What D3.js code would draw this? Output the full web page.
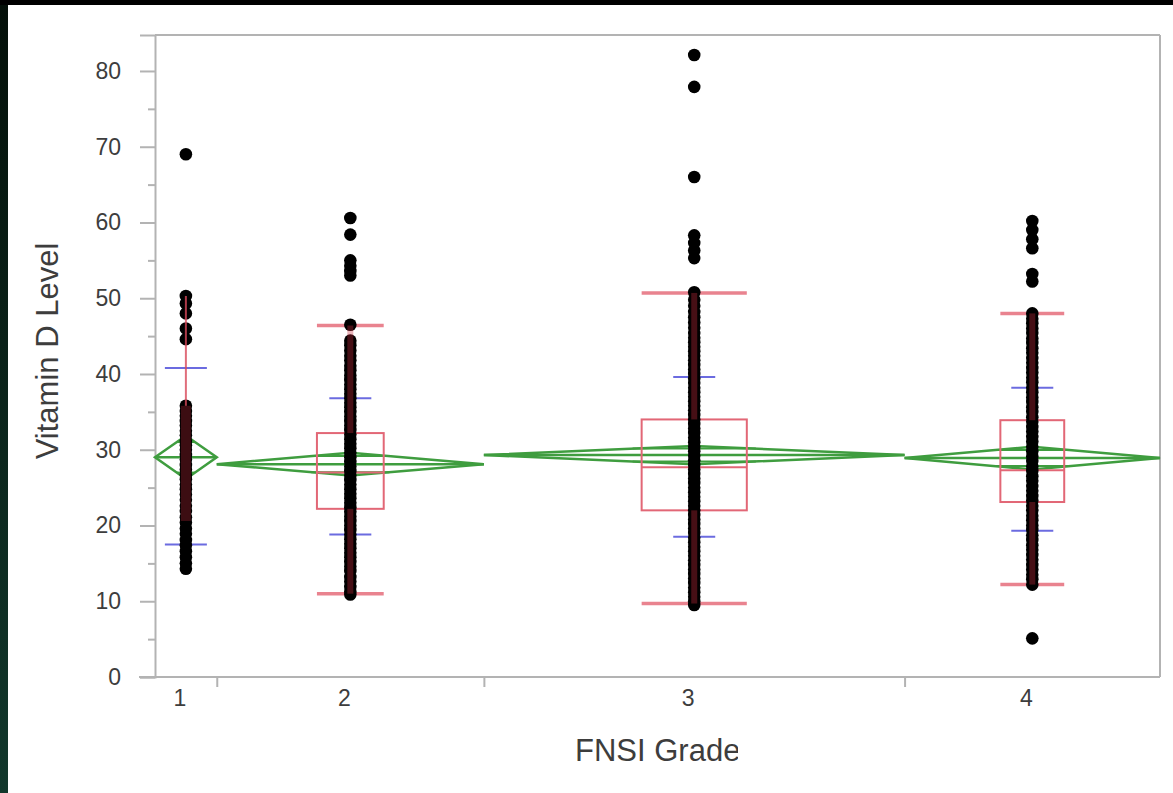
<!DOCTYPE html>
<html>
<head>
<meta charset="utf-8">
<script src="https://cdn.jsdelivr.net/npm/d3@7"></script>
<style>
    body { margin: 0; background: #000; }
    svg { display: block; }
</style>
</head>
<body>
<svg id="chart" width="1173" height="793"></svg>
<script>
'use strict';

// Groups and sample sizes (x widths are proportional to n)
const grades = ['1', '2', '3', '4'];
const groupCounts = [37, 160, 252, 153];

// Individual Vitamin D levels
const grade1 = [69.0, 50.3, 49.3, 48.0, 46.0, 44.6, 35.8, 35.1, 34.5, 33.8, 33.2, 32.5, 31.9,
    31.2, 30.6, 30.0, 29.3, 28.7, 28.0, 27.4, 26.7, 26.1, 25.4, 24.8, 24.1, 23.4, 22.6,
    21.9, 21.1, 20.4, 19.6, 18.9, 18.1, 17.4, 16.6, 15.8, 15.0, 14.3];
const grade2 = [60.6, 58.4, 55.0, 54.3, 53.6, 53.0, 46.5, 44.4, 43.8, 43.1, 42.4, 41.8, 41.1,
    40.5, 39.8, 39.2, 38.6, 38.0, 37.4, 36.8, 36.2, 35.6, 35.0, 34.4, 33.8, 33.2, 32.6,
    32.0, 31.4, 30.8, 30.2, 29.6, 29.0, 28.4, 27.8, 27.2, 26.6, 26.0, 25.4, 24.8, 24.2,
    23.6, 23.0, 22.4, 21.8, 21.2, 20.6, 20.0, 19.4, 18.8, 18.2, 17.6, 17.0, 16.4, 15.8,
    15.2, 14.6, 14.0, 13.2, 12.6, 11.9, 11.3, 10.9];
const grade3 = [82.1, 77.9, 66.0, 58.3, 57.3, 56.3, 55.3, 50.8, 49.8, 49.0, 48.2, 47.5, 46.8,
    46.1, 45.4, 44.8, 44.2, 43.6, 43.0, 42.4, 41.8, 41.2, 40.6, 40.0, 39.4, 38.8, 38.2,
    37.6, 37.0, 36.4, 35.8, 35.2, 34.6, 34.0, 33.4, 32.8, 32.2, 31.6, 31.0, 30.4, 29.8,
    29.2, 28.6, 28.0, 27.4, 26.8, 26.2, 25.6, 25.0, 24.4, 23.8, 23.2, 22.6, 22.0, 21.4,
    20.8, 20.2, 19.6, 19.0, 18.4, 17.8, 17.2, 16.6, 16.0, 15.4, 14.8, 14.2, 13.6, 13.0,
    12.4, 11.8, 11.2, 10.6, 10.0, 9.5];
const grade4 = [60.2, 59.0, 57.8, 56.6, 53.2, 52.2, 48.0, 47.3, 46.7, 46.0, 45.4, 44.7, 44.1,
    43.4, 42.8, 42.1, 41.5, 40.8, 40.2, 39.5, 38.9, 38.2, 37.6, 36.9, 36.3, 35.6, 35.0,
    34.3, 33.7, 33.0, 32.4, 31.7, 31.1, 30.4, 29.8, 29.1, 28.5, 27.8, 27.2, 26.5, 25.9,
    25.2, 24.6, 23.9, 23.3, 22.6, 22.0, 21.3, 20.7, 20.0, 19.4, 18.7, 18.1, 17.4, 16.8,
    16.1, 15.5, 14.8, 14.2, 13.5, 12.9, 12.2, 5.1];
const groupValues = [grade1, grade2, grade3, grade4];

// Means diamonds (mean and 95% CI half-width)
const means = [29.0, 28.1, 29.3, 28.9];
const ciHalf = [2.85, 1.5, 1.2, 1.5];

// Box plots
const q1 = [20.6, 22.2, 22.0, 23.1];
const medians = [28.5, 27.0, 27.7, 27.3];
const q3 = [35.8, 32.2, 34.0, 33.9];
const whiskerLow = [14.3, 11.0, 9.7, 12.2];
const whiskerHigh = [50.3, 46.4, 50.7, 48.0];

// Std dev lines (mean +/- 1 sd)
const sdLow = [17.5, 18.8, 18.5, 19.3];
const sdHigh = [40.8, 36.8, 39.6, 38.2];

const yTicks = [0, 10, 20, 30, 40, 50, 60, 70, 80];
const yMinorTicks = [5, 15, 25, 35, 45, 55, 65, 75];

(function () {

    const svg = d3.select('#chart');

    // Backdrop: black frame, dark green strip on the left, white panel
    const defs = svg.append('defs');
    const grad = defs.append('linearGradient')
        .attr('id', 'edge')
        .attr('x1', 0).attr('y1', 0).attr('x2', 0).attr('y2', 1);
    grad.append('stop').attr('offset', '0%').attr('stop-color', '#041009');
    grad.append('stop').attr('offset', '100%').attr('stop-color', '#12382c');

    svg.append('rect').attr('width', 1173).attr('height', 793).attr('fill', '#000');
    svg.append('rect').attr('x', 0).attr('y', 5).attr('width', 9).attr('height', 788)
        .attr('fill', 'url(#edge)');
    svg.append('rect').attr('x', 8).attr('y', 5).attr('width', 1165).attr('height', 788)
        .attr('fill', '#fff');

    // Config
    const margin = {'top': 35, 'right': 13, 'bottom': 116, 'left': 155};
    const width = +svg.attr('width') - (margin.left + margin.right);
    const height = +svg.attr('height') - (margin.top + margin.bottom);
    const font = 'Liberation Sans, Arial, sans-serif';
    const textColor = '#3d3d3d';

    const container = svg.append('g')
        .attr('transform', `translate(${margin.left}, ${margin.top})`);

    // Scales
    const total = d3.sum(groupCounts);
    const starts = d3.cumsum([0].concat(groupCounts.slice(0, -1)));
    const ends = d3.cumsum(groupCounts);

    const scX = d3.scaleLinear().domain([0, total]).range([0, width]);
    const scY = d3.scaleLinear().domain([0, 84.75]).range([height, 0]);

    const groups = grades.map((g, i) => {
        const x0 = scX(starts[i]);
        const x1 = scX(ends[i]);
        return {
            grade: g, i: i, x0: x0, x1: x1, cx: (x0 + x1) / 2, w: x1 - x0,
            values: groupValues[i]
        };
    });

    const axisColor = '#b3b3b3';

    // Frame
    container.append('line')
        .attr('x1', 0).attr('x2', width).attr('y1', 0).attr('y2', 0)
        .attr('stroke', axisColor).attr('stroke-width', 2);
    container.append('line')
        .attr('x1', width).attr('x2', width).attr('y1', 0).attr('y2', height)
        .attr('stroke', axisColor).attr('stroke-width', 2);

    // Y axis
    const yAxis = container.append('g')
        .attr('class', 'y axis')
        .call(d3.axisLeft(scY).tickValues(yTicks).tickSize(15).tickPadding(19));
    yAxis.select('.domain').attr('stroke', axisColor).attr('stroke-width', 2);
    yAxis.selectAll('.tick line').attr('stroke', axisColor).attr('stroke-width', 2);
    yAxis.selectAll('.tick text')
        .attr('fill', textColor)
        .style('font-family', font)
        .style('font-size', '23px');

    const yMinor = container.append('g')
        .call(d3.axisLeft(scY).tickValues(yMinorTicks).tickSize(7).tickFormat(''));
    yMinor.select('.domain').remove();
    yMinor.selectAll('.tick line').attr('stroke', axisColor).attr('stroke-width', 2);

    // X axis: ticks at the group boundaries
    const xAxis = container.append('g')
        .attr('class', 'x axis')
        .attr('transform', `translate(0, ${height})`)
        .call(d3.axisBottom(scX).tickValues(ends.slice(0, -1)).tickSize(10).tickFormat(''));
    xAxis.select('.domain')
        .attr('d', `M-16,0H${width}`)
        .attr('stroke', axisColor).attr('stroke-width', 2);
    xAxis.selectAll('.tick line').attr('stroke', axisColor).attr('stroke-width', 2);

    xAxis.selectAll('.grade')
        .data(groups)
        .enter()
        .append('text')
            .attr('class', 'grade')
            .attr('x', (d) => d.cx - 6)
            .attr('y', 29)
            .attr('text-anchor', 'middle')
            .attr('fill', textColor)
            .style('font-family', font)
            .style('font-size', '23px')
            .text((d) => d.grade);

    // Axis titles (the x title is cut off at the right, as in the source)
    defs.append('clipPath').attr('id', 'titleClip')
        .append('rect').attr('x', 0).attr('y', 0).attr('width', 738).attr('height', 793);

    svg.append('text')
        .attr('x', 575)
        .attr('y', 761)
        .attr('clip-path', 'url(#titleClip)')
        .attr('fill', textColor)
        .style('font-family', font)
        .style('font-size', '31px')
        .text('FNSI Grade');

    svg.append('text')
        .attr('transform', 'translate(58, 351) rotate(-90)')
        .attr('text-anchor', 'middle')
        .attr('fill', textColor)
        .style('font-family', font)
        .style('font-size', '31px')
        .text('Vitamin D Level');

    // Means diamonds
    const green = '#3f9d3f';
    groups.forEach((g) => {
        const m = scY(means[g.i]);
        const top = scY(means[g.i] + ciHalf[g.i]);
        const bot = scY(means[g.i] - ciHalf[g.i]);
        container.append('path')
            .attr('d', `M${g.x0},${m}L${g.cx},${top}L${g.x1},${m}L${g.cx},${bot}Z`)
            .attr('fill', 'none')
            .attr('stroke', green)
            .attr('stroke-width', 2.5);
        container.append('line')
            .attr('x1', g.x0).attr('x2', g.x1).attr('y1', m).attr('y2', m)
            .attr('stroke', green).attr('stroke-width', 2.5);

        // Overlap marks
        const off = ciHalf[g.i] / Math.SQRT2;
        const halfW = (g.w / 2) * (1 - 1 / Math.SQRT2);
        [means[g.i] + off, means[g.i] - off].forEach((v) => {
            container.append('line')
                .attr('x1', g.cx - halfW).attr('x2', g.cx + halfW)
                .attr('y1', scY(v)).attr('y2', scY(v))
                .attr('stroke', green).attr('stroke-width', 2);
        });
    });

    // Box plots (a box narrower than the dot column ends up hidden under it)
    const boxColor = '#e26776';
    groups.forEach((g) => {
        const bw = g.w * 0.25;
        const narrow = bw < 20;
        if (!narrow) {
            container.append('rect')
                .attr('x', g.cx - bw / 2)
                .attr('y', scY(q3[g.i]))
                .attr('width', bw)
                .attr('height', scY(q1[g.i]) - scY(q3[g.i]))
                .attr('fill', 'none')
                .attr('stroke', boxColor)
                .attr('stroke-width', 2);
            container.append('line')
                .attr('x1', g.cx - bw / 2).attr('x2', g.cx + bw / 2)
                .attr('y1', scY(medians[g.i])).attr('y2', scY(medians[g.i]))
                .attr('stroke', boxColor).attr('stroke-width', 2);
            [whiskerLow[g.i], whiskerHigh[g.i]].forEach((v) => {
                container.append('line')
                    .attr('x1', g.cx - bw / 2).attr('x2', g.cx + bw / 2)
                    .attr('y1', scY(v)).attr('y2', scY(v))
                    .attr('stroke', '#e9838f').attr('stroke-width', 3.5);
            });
        }

        // Std dev lines
        [sdLow[g.i], sdHigh[g.i]].forEach((v) => {
            container.append('line')
                .attr('x1', g.cx - 21).attr('x2', g.cx + 21)
                .attr('y1', scY(v)).attr('y2', scY(v))
                .attr('stroke', '#6b6be0').attr('stroke-width', 2);
        });
    });

    // Points
    groups.forEach((g) => {
        container.selectAll(`.dot${g.i}`)
            .data(g.values)
            .enter()
            .append('circle')
                .attr('class', `dot${g.i}`)
                .attr('cx', g.cx)
                .attr('cy', (d) => scY(d))
                .attr('r', 6.3)
                .style('fill', '#000');
    });

    // Whiskers drawn over the points
    groups.forEach((g) => {
        const narrow = g.w * 0.25 < 20;
        if (narrow) {
            // thin whisker line plus a red tint where the box sits
            container.append('line')
                .attr('x1', g.cx).attr('x2', g.cx)
                .attr('y1', scY(whiskerHigh[g.i])).attr('y2', scY(q3[g.i]))
                .attr('stroke', '#d8485a')
                .attr('stroke-opacity', 0.8)
                .attr('stroke-width', 2);
            container.append('rect')
                .attr('x', g.cx - 5)
                .attr('y', scY(q3[g.i]))
                .attr('width', 10)
                .attr('height', scY(q1[g.i]) - scY(q3[g.i]))
                .attr('fill', '#c82a3c')
                .attr('fill-opacity', 0.3);
            return;
        }
        [[q3[g.i], whiskerHigh[g.i]], [whiskerLow[g.i], q1[g.i]]].forEach((s) => {
            container.append('line')
                .attr('x1', g.cx).attr('x2', g.cx)
                .attr('y1', scY(s[0])).attr('y2', scY(s[1]))
                .attr('stroke', '#c82a3c')
                .attr('stroke-opacity', 0.35)
                .attr('stroke-width', 6);
        });
    });

})();
</script>
</body>
</html>
